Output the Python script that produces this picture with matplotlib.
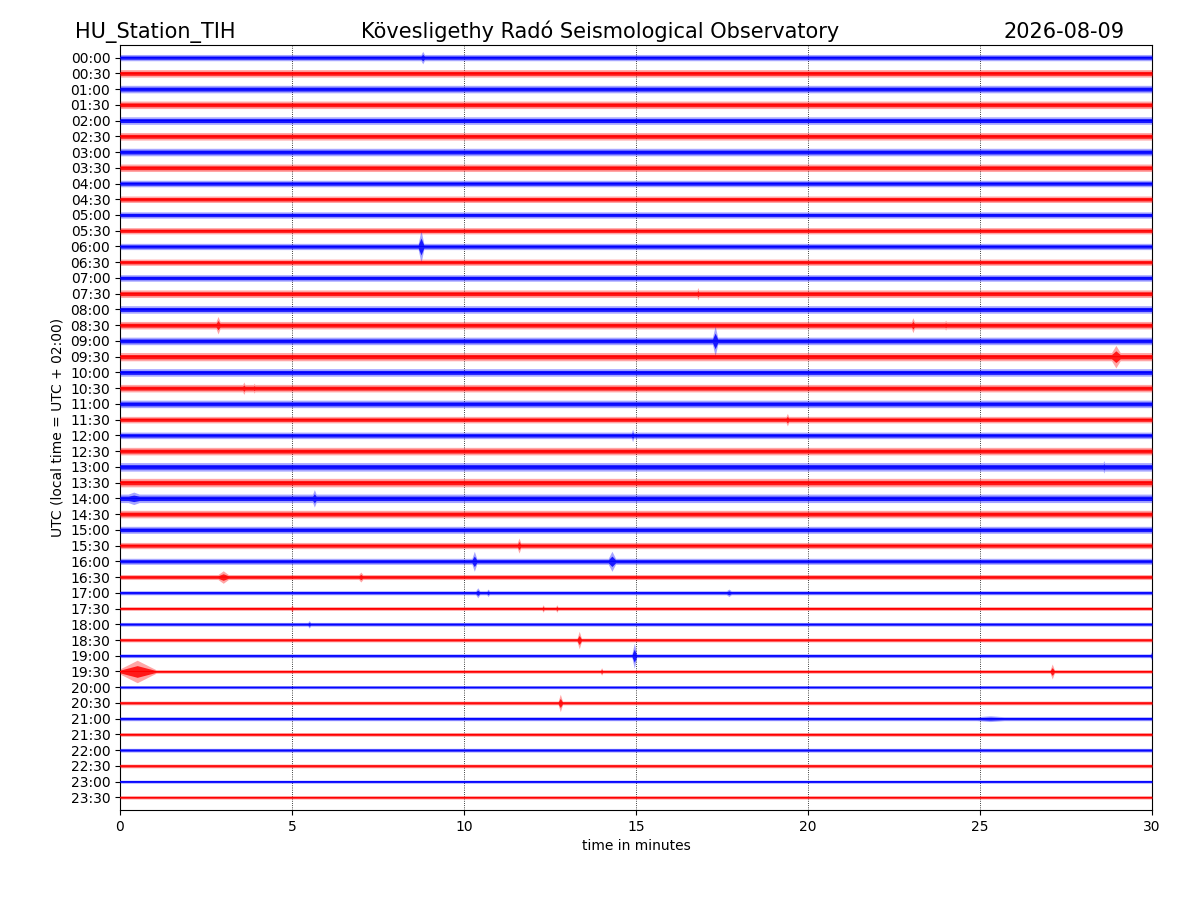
import numpy as np
import matplotlib
matplotlib.use("Agg")
import matplotlib.pyplot as plt

# Datos

STATION = "HU_Station_TIH"
OBSERVATORY = "Kövesligethy Radó Seismological Observatory"
DAY = "2026-08-09"

ROW_LABELS = [f"{h:02d}:{m:02d}" for h in range(24) for m in (0, 30)]

# ruido de fondo de cada fila (unidades relativas)
NOISE = [2.5, 3.0, 3.0, 3.0, 3.0, 3.0, 3.0, 3.0,
         2.6, 2.6, 2.5, 2.5, 2.5, 2.5, 2.6, 3.0,
         3.0, 3.0, 3.0, 3.3, 3.0, 3.0, 3.0, 2.6,
         2.6, 3.0, 3.4, 3.4, 3.4, 3.0, 2.8, 2.5,
         2.4, 2.0, 1.6, 1.5, 1.5, 1.5, 1.5, 1.4,
         1.2, 1.5, 1.6, 1.5, 1.5, 1.5, 1.2, 1.3]

# eventos: (fila, minuto, amplitud, semiduracion en minutos)
EVENTS = [
    ("00:00", 8.8, 5.0, 0.1),
    ("06:00", 8.75, 13.0, 0.1),
    ("07:30", 16.8, 5.0, 0.06),
    ("08:30", 2.85, 7.0, 0.1),
    ("08:30", 23.05, 6.0, 0.08),
    ("08:30", 24.0, 4.0, 0.08),
    ("09:00", 17.3, 12.0, 0.1),
    ("09:30", 28.95, 9.0, 0.2),
    ("10:30", 3.6, 5.0, 0.08),
    ("10:30", 3.9, 4.0, 0.08),
    ("11:30", 19.4, 5.0, 0.08),
    ("12:00", 14.9, 5.0, 0.06),
    ("13:00", 28.6, 5.0, 0.06),
    ("14:00", 0.4, 5.0, 0.5),
    ("14:00", 5.65, 7.0, 0.1),
    ("15:30", 11.6, 6.0, 0.08),
    ("16:00", 10.3, 8.0, 0.1),
    ("16:00", 14.3, 8.0, 0.15),
    ("16:30", 3.0, 5.0, 0.25),
    ("16:30", 7.0, 4.0, 0.12),
    ("17:00", 10.4, 4.0, 0.1),
    ("17:00", 10.7, 3.0, 0.08),
    ("17:00", 17.7, 3.0, 0.15),
    ("17:30", 5.0, 3.0, 0.06),
    ("17:30", 12.3, 3.0, 0.06),
    ("17:30", 12.7, 3.0, 0.06),
    ("18:00", 5.5, 3.0, 0.08),
    ("18:30", 13.35, 7.0, 0.08),
    ("19:00", 14.95, 10.0, 0.08),
    ("19:00", 30.0, 4.0, 0.08),
    ("19:30", 0.5, 9.0, 0.65),
    ("19:30", 14.0, 3.0, 0.06),
    ("19:30", 27.1, 6.0, 0.08),
    ("20:30", 12.8, 7.0, 0.08),
    ("21:00", 25.3, 2.3, 1.3),
]

COLORS = ["#0000ff", "#ff0000"]
SCALE = 15.74  # amplitud relativa -> filas


def envolvente(fila: int, tiempo: np.ndarray) -> np.ndarray:
    """Envolvente de la traza de una fila a partir del ruido y los eventos"""
    env = np.full_like(tiempo, NOISE[fila])
    for etiqueta, t0, amp, semi in EVENTS:
        if ROW_LABELS.index(etiqueta) == fila:
            pico = amp * np.clip(1 - np.abs(tiempo - t0) / semi, 0, None)
            env = np.maximum(env, pico)
    return env / SCALE


def main():
    fig = plt.figure(figsize=(12, 9), dpi=100)
    ax = fig.add_axes([0.1, 0.1, 0.86, 0.85])

    tiempo = np.linspace(0, 30, 6001)
    for fila in range(len(ROW_LABELS)):
        color = COLORS[fila % 2]
        env = envolvente(fila, tiempo)
        # franja exterior clara y nucleo del ruido
        ax.fill_between(tiempo, fila - env * 1.25, fila + env * 1.25,
                        color=color, alpha=0.35, lw=0, zorder=3)
        ax.fill_between(tiempo, fila - env * 0.65, fila + env * 0.65,
                        color=color, alpha=0.85, lw=0, zorder=4)
        ax.plot(tiempo, np.full_like(tiempo, fila), color=color, lw=0.8, zorder=5)

    ax.set_xlim(0, 30)
    ax.set_ylim(len(ROW_LABELS) - 1 + 0.8, -0.8)
    ax.set_xticks(range(0, 31, 5))
    ax.set_yticks(range(len(ROW_LABELS)))
    ax.set_yticklabels(ROW_LABELS)
    ax.grid(True, axis="x", color="k", ls=":", lw=0.6)
    ax.set_axisbelow(True)
    ax.set_xlabel("time in minutes")
    ax.set_ylabel("UTC (local time = UTC + 02:00)")

    # Titulos
    fig.text(0.0625, 0.958, STATION, fontsize=15, ha="left", va="baseline")
    fig.text(0.5, 0.958, OBSERVATORY, fontsize=15, ha="center", va="baseline")
    fig.text(0.9375, 0.958, DAY, fontsize=15, ha="right", va="baseline")

    fig.savefig("out.png", dpi=100)


main()
